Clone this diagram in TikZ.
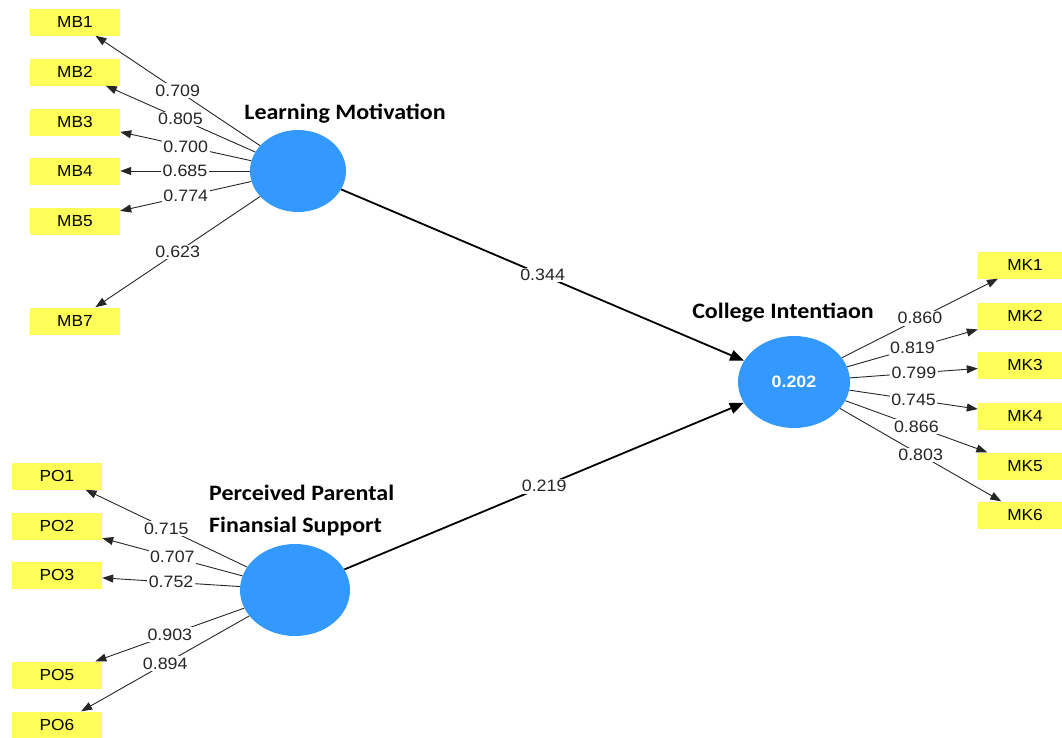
\documentclass[tikz,border=0pt]{standalone}
\usepackage{fontspec}
\setmainfont{Liberation Sans}[FakeStretch=1.08]
\newfontfamily\titlefont{Carlito}[FakeStretch=1.09]
\usetikzlibrary{arrows.meta,shapes.geometric}
\definecolor{boxyellow}{RGB}{255,255,90}
\definecolor{lvblue}{RGB}{51,153,255}
\begin{document}
\begin{tikzpicture}[x=1pt,y=-1pt,
  ind/.style={fill=boxyellow, minimum width=90pt, minimum height=27pt, inner sep=0pt,
    font=\fontsize{16}{16}\selectfont},
  lv/.style={ellipse, fill=lvblue, inner sep=0pt},
  load/.style={draw=black!85, line width=0.9pt, -{Triangle[length=11pt,width=8pt]}},
  struct/.style={draw=black, line width=1.8pt, -{Triangle[length=14pt,width=11pt]}},
  lbl/.style={fill=white, inner sep=1.5pt, pos=0.5, font=\fontsize{16.5}{16.5}\selectfont, text=black!85},
  ttl/.style={font=\titlefont\bfseries\fontsize{22}{32}\selectfont, inner sep=0pt}
]
\useasboundingbox (0,0) rectangle (1062,737);
\clip (0,0) rectangle (1062,737);

% latent variables
\node[lv, minimum width=96pt, minimum height=82pt] (lm) at (298,171) {};
\node[lv, minimum width=110pt, minimum height=92pt] (pp) at (295,590) {};
\node[lv, minimum width=112pt, minimum height=92pt, text=white,
  font=\fontsize{16.5}{16.5}\selectfont\bfseries] (ci) at (794,382) {0.202};

% titles
\node[ttl] (tlm) at (345,114) {Learning Motivation};
\node[ttl] (tci) at (783,313) {College Intentiaon};
\node[ttl, align=left, anchor=west] (tpp) at (209,511) {Perceived Parental\\Finansial Support};

% indicators
\node[ind] (mb1) at (75,22) {MB1};
\node[ind] (mb2) at (75,72) {MB2};
\node[ind] (mb3) at (75,122) {MB3};
\node[ind] (mb4) at (75,171) {MB4};
\node[ind] (mb5) at (75,221) {MB5};
\node[ind] (mb7) at (75,321) {MB7};

\node[ind] (po1) at (57,476) {PO1};
\node[ind] (po2) at (57,526) {PO2};
\node[ind] (po3) at (57,575) {PO3};
\node[ind] (po5) at (57,675) {PO5};
\node[ind] (po6) at (57,725) {PO6};

\node[ind, minimum width=94pt] (mk1) at (1025,265) {MK1};
\node[ind, minimum width=94pt] (mk2) at (1025,316) {MK2};
\node[ind, minimum width=94pt] (mk3) at (1025,365) {MK3};
\node[ind, minimum width=94pt] (mk4) at (1025,416) {MK4};
\node[ind, minimum width=94pt] (mk5) at (1025,466) {MK5};
\node[ind, minimum width=94pt] (mk6) at (1025,515) {MK6};

% loadings
\draw[load] (lm) -- node[lbl] (l1) {0.709} (mb1);
\draw[load] (lm) -- node[lbl] (l2) {0.805} (mb2);
\draw[load] (lm) -- node[lbl] (l3) {0.700} (mb3);
\draw[load] (lm) -- node[lbl] (l4) {0.685} (mb4);
\draw[load] (lm) -- node[lbl] (l5) {0.774} (mb5);
\draw[load] (lm) -- node[lbl] (l7) {0.623} (mb7);

\draw[load] (pp) -- node[lbl] (p1) {0.715} (po1);
\draw[load] (pp) -- node[lbl] (p2) {0.707} (po2);
\draw[load] (pp) -- node[lbl] (p3) {0.752} (po3);
\draw[load] (pp) -- node[lbl] (p5) {0.903} (po5);
\draw[load] (pp) -- node[lbl] (p6) {0.894} (po6);

\draw[load] (ci) -- node[lbl] (k1) {0.860} (mk1);
\draw[load] (ci) -- node[lbl] (k2) {0.819} (mk2);
\draw[load] (ci) -- node[lbl] (k3) {0.799} (mk3);
\draw[load] (ci) -- node[lbl] (k4) {0.745} (mk4);
\draw[load] (ci) -- node[lbl] (k5) {0.866} (mk5);
\draw[load] (ci) -- node[lbl] (k6) {0.803} (mk6);

% structural paths
\draw[struct] (lm) -- node[lbl] (s1) {0.344} (ci);
\draw[struct] (pp) -- node[lbl] (s2) {0.219} (ci);
\end{tikzpicture}
\end{document}
